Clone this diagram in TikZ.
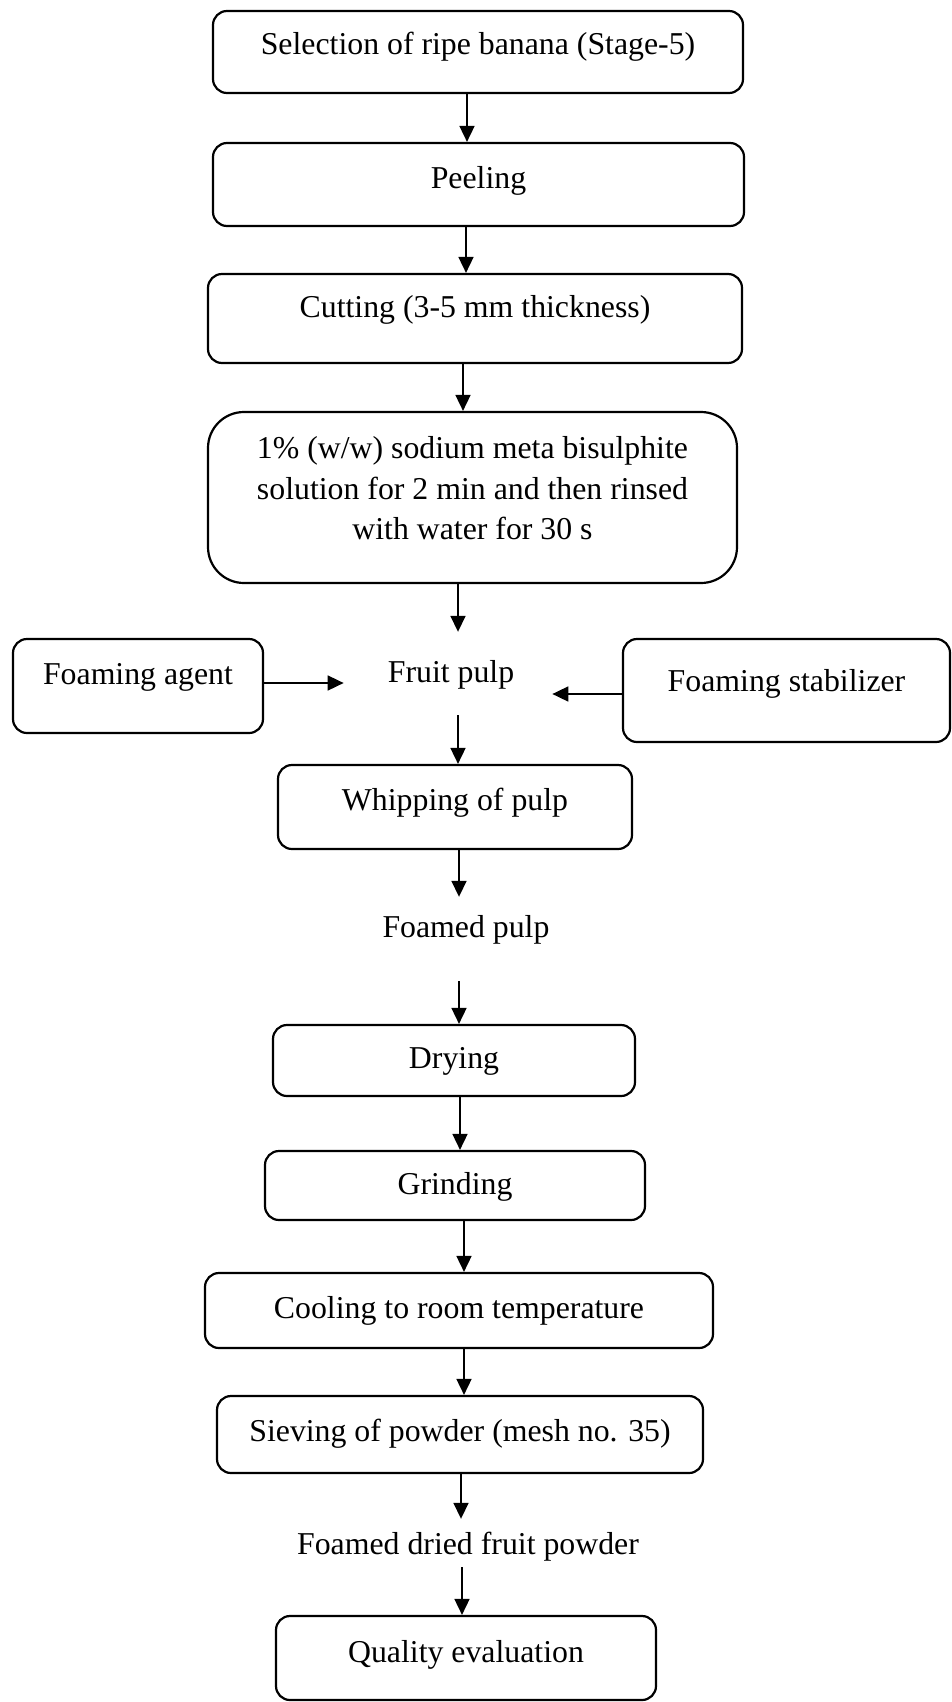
\documentclass[tikz,border=0pt]{standalone}
\usepackage{fontspec}
\setmainfont{Liberation Serif}
\usetikzlibrary{arrows.meta}
\tikzset{
    stepbox/.style = {rectangle, rounded corners=14pt, line width=2.2pt, draw=black, inner sep=0pt},
    lift/.style = {text height=22pt, text depth=#1},
    lift/.default = 7pt,
    plaintext/.style = {inner sep=0pt, text height=22pt, text depth=7pt, anchor=base},
    edgen/.style = {-{Triangle[length=16pt,width=15pt]}, line width=1.7pt}
}
\begin{document}
\begin{tikzpicture}[x=1pt, y=-1pt, font=\fontsize{31.8}{39}\selectfont]
\useasboundingbox (0,0) rectangle (951,1702);

\node[stepbox, lift=16pt, minimum width=530pt, minimum height=82pt] at (478,52) (sel) {Selection of ripe banana (Stage-5)};
\node[stepbox, lift=15pt, minimum width=531pt, minimum height=83pt] at (478.5,184.5) (peel) {Peeling};
\node[stepbox, lift=25pt, minimum width=534pt, minimum height=89pt] at (475,318.5) (cut) {Cutting (3-5 mm thickness)};
\node[stepbox, rounded corners=36pt, align=center, font=\fontsize{31.8}{40.5}\selectfont, minimum width=529pt, minimum height=171pt] at (472.5,497.5) (sms) {1\% (w/w) sodium meta bisulphite\\solution for 2 min and then rinsed\\with water for 30 s\rule[-19pt]{0pt}{19pt}};
\node[plaintext] at (451,682) (fruit) {Fruit pulp};
\node[stepbox, lift=26pt, minimum width=250pt, minimum height=94pt] at (138,686) (agent) {Foaming agent};
\node[stepbox, lift=21pt, minimum width=327pt, minimum height=103pt] at (786.5,690.5) (stab) {Foaming stabilizer};
\node[stepbox, lift=16pt, minimum width=354pt, minimum height=84pt] at (455,807) (whip) {Whipping of pulp};
\node[plaintext] at (466,937) (foamed) {Foamed pulp};
\node[stepbox, lift, minimum width=362pt, minimum height=71pt] at (454,1060.5) (dry) {Drying};
\node[stepbox, lift=5pt, minimum width=380pt, minimum height=69pt] at (455,1185.5) (grind) {Grinding};
\node[stepbox, lift, minimum width=508pt, minimum height=75pt] at (459,1310.5) (cool) {Cooling to room temperature};
\node[stepbox, lift=9pt, minimum width=486pt, minimum height=77pt] at (460,1434.5) (sieve) {Sieving of powder (mesh no. 35)};
\node[plaintext] at (468,1554) (fdfp) {Foamed dried fruit powder};
\node[stepbox, lift=14pt, minimum width=380pt, minimum height=84pt] at (466,1658) (qual) {Quality evaluation};

% main line
\draw[edgen] ([xshift=-11pt]sel.south) -- ([xshift=-11pt]sel.south |- peel.north);
\draw[edgen] ([xshift=-12.5pt]peel.south) -- ([xshift=-12.5pt]peel.south |- cut.north);
\draw[edgen] ([xshift=-12pt]cut.south) -- ([xshift=-12pt]cut.south |- sms.north);
\draw[edgen, shorten >=28pt] ([xshift=-14.5pt]sms.south) -- ([xshift=-14.5pt]sms.south |- fruit.north);
\draw[edgen, shorten <=26pt] ([xshift=7pt]fruit.south) -- ([xshift=7pt]fruit.south |- whip.north);
\draw[edgen, shorten >=18pt] ([xshift=4pt]whip.south) -- ([xshift=4pt]whip.south |- foamed.north);
\draw[edgen, shorten <=37pt] ([xshift=-7pt]foamed.south) -- ([xshift=-7pt]foamed.south |- dry.north);
\draw[edgen] ([xshift=6pt]dry.south) -- ([xshift=6pt]dry.south |- grind.north);
\draw[edgen] ([xshift=9pt]grind.south) -- ([xshift=9pt]grind.south |- cool.north);
\draw[edgen] ([xshift=5pt]cool.south) -- ([xshift=5pt]cool.south |- sieve.north);
\draw[edgen, shorten >=13pt] ([xshift=1pt]sieve.south) -- ([xshift=1pt]sieve.south |- fdfp.north);
\draw[edgen, shorten <=6pt] ([xshift=-6pt]fdfp.south) -- ([xshift=-6pt]fdfp.south |- qual.north);

% side inputs
\draw[edgen, shorten >=44pt] ([yshift=3pt]agent.east) -- ([yshift=3pt]agent.east -| fruit.west);
\draw[edgen, shorten >=38pt] ([yshift=-3.5pt]stab.west) -- ([yshift=-3.5pt]stab.west -| fruit.east);

\end{tikzpicture}
\end{document}
